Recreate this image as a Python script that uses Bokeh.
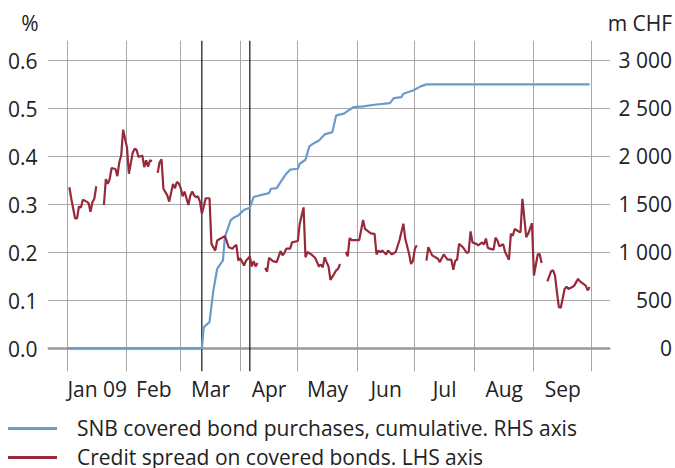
import numpy as np
import pandas as pd
from bokeh.plotting import figure
from bokeh.layouts import column
from bokeh.models import (Range1d, LinearAxis, FixedTicker, Span, Div,
                          NumeralTickFormatter)
from bokeh.embed import file_html
from bokeh.resources import INLINE

# ---------------- data ----------------
month_starts = ["2009-01-01", "2009-02-01", "2009-03-01", "2009-04-01", "2009-05-01",
                "2009-06-01", "2009-07-01", "2009-08-01", "2009-09-01", "2009-10-01"]
month_labels = ["Jan 09", "Feb", "Mar", "Apr", "May", "Jun", "Jul", "Aug", "Sep"]
left_ticks = [0.0, 0.1, 0.2, 0.3, 0.4, 0.5, 0.6]
right_ticks = [0, 500, 1000, 1500, 2000, 2500, 3000]
right_labels = ["\u2007\u00a0\u2007\u20070", "\u2007\u00a0500", "1 000", "1 500",
                "2 000", "2 500", "3 000"]
unit_labels = ["%\u2007\u2007\u2007",
               "\u2007\u2007\u2007\u2007\u2007m CHF"]
series_labels = ["SNB covered bond purchases, cumulative. RHS axis",
                 "Credit spread on covered bonds. LHS axis"]
event_dates = ["2009-03-12", "2009-04-06"]

spread_dates = [
    "2009-01-02", "2009-01-03", "2009-01-05", "2009-01-06", "2009-01-07", "2009-01-08",
    "2009-01-09", "2009-01-11", "2009-01-12", "2009-01-13", "2009-01-14", "2009-01-15",
    "2009-01-16", "2009-01-18", "2009-01-20", "2009-01-21", "2009-01-22", "2009-01-23",
    "2009-01-24", "2009-01-26", "2009-01-27", "2009-01-28", "2009-01-29", "2009-01-30",
    "2009-02-01", "2009-02-02", "2009-02-04", "2009-02-05", "2009-02-06", "2009-02-07",
    "2009-02-09", "2009-02-10", "2009-02-11", "2009-02-12", "2009-02-13", "2009-02-14",
    "2009-02-15", "2009-02-17", "2009-02-18", "2009-02-19", "2009-02-20", "2009-02-22",
    "2009-02-23", "2009-02-25", "2009-02-26", "2009-02-27", "2009-02-28", "2009-03-01",
    "2009-03-02", "2009-03-03", "2009-03-04", "2009-03-05", "2009-03-06", "2009-03-07",
    "2009-03-08", "2009-03-09", "2009-03-10", "2009-03-11", "2009-03-12", "2009-03-13",
    "2009-03-14", "2009-03-16", "2009-03-17", "2009-03-19", "2009-03-20", "2009-03-23",
    "2009-03-24", "2009-03-25", "2009-03-26", "2009-03-28", "2009-03-29", "2009-03-30",
    "2009-03-31", "2009-04-01", "2009-04-03", "2009-04-04", "2009-04-05", "2009-04-06",
    "2009-04-07", "2009-04-08", "2009-04-09", "2009-04-10", "2009-04-12", "2009-04-14",
    "2009-04-15", "2009-04-16", "2009-04-18", "2009-04-20", "2009-04-22", "2009-04-23",
    "2009-04-24", "2009-04-25", "2009-04-27", "2009-04-28", "2009-05-01", "2009-05-02",
    "2009-05-04", "2009-05-05", "2009-05-06", "2009-05-08", "2009-05-10", "2009-05-11",
    "2009-05-12", "2009-05-13", "2009-05-14", "2009-05-15", "2009-05-16", "2009-05-17",
    "2009-05-18", "2009-05-20", "2009-05-21", "2009-05-22", "2009-05-23", "2009-05-24",
    "2009-05-26", "2009-05-27", "2009-05-28", "2009-05-29", "2009-06-02", "2009-06-03",
    "2009-06-04", "2009-06-05", "2009-06-06", "2009-06-08", "2009-06-10", "2009-06-11",
    "2009-06-12", "2009-06-13", "2009-06-14", "2009-06-16", "2009-06-17", "2009-06-19",
    "2009-06-21", "2009-06-23", "2009-06-25", "2009-06-26", "2009-06-28", "2009-06-29",
    "2009-06-30", "2009-07-01", "2009-07-02", "2009-07-04", "2009-07-07", "2009-07-08",
    "2009-07-10", "2009-07-13", "2009-07-14", "2009-07-16", "2009-07-18", "2009-07-20",
    "2009-07-21", "2009-07-22", "2009-07-23", "2009-07-24", "2009-07-26", "2009-07-28",
    "2009-07-29", "2009-07-30", "2009-07-31", "2009-08-02", "2009-08-03", "2009-08-05",
    "2009-08-06", "2009-08-07", "2009-08-08", "2009-08-09", "2009-08-11", "2009-08-12",
    "2009-08-13", "2009-08-14", "2009-08-16", "2009-08-17", "2009-08-19", "2009-08-20",
    "2009-08-21", "2009-08-22", "2009-08-24", "2009-08-25", "2009-08-26", "2009-08-28",
    "2009-08-29", "2009-08-31", "2009-09-01", "2009-09-03", "2009-09-04", "2009-09-05",
    "2009-09-06", "2009-09-08", "2009-09-10", "2009-09-11", "2009-09-12", "2009-09-13",
    "2009-09-14", "2009-09-15", "2009-09-17", "2009-09-18", "2009-09-19", "2009-09-21",
    "2009-09-22", "2009-09-24", "2009-09-25", "2009-09-28", "2009-09-29", "2009-09-30",
]
spread_values = [
    0.336, 0.312, 0.271, 0.271, 0.296, 0.294,
    0.310, 0.306, 0.303, 0.285, 0.305, 0.312,
    0.338, None, 0.299, 0.353, 0.343, 0.353,
    0.376, 0.374, 0.359, 0.388, 0.402, 0.456,
    0.419, 0.364, 0.408, 0.416, 0.414, 0.399,
    0.402, 0.378, 0.392, 0.379, 0.392, 0.390,
    None, 0.366, 0.388, 0.394, 0.333, 0.319,
    0.306, 0.343, 0.334, 0.347, 0.344, 0.334,
    0.317, 0.327, 0.313, 0.299, 0.319, 0.327,
    0.319, 0.315, 0.317, 0.306, 0.281, 0.296,
    0.313, 0.313, 0.218, 0.204, 0.225, 0.232,
    0.234, 0.223, 0.211, 0.208, 0.213, 0.216,
    0.183, 0.188, 0.173, 0.183, 0.187, 0.192,
    0.171, 0.182, 0.171, 0.178, None, 0.168,
    0.160, 0.189, 0.182, 0.180, 0.203, 0.194,
    0.199, 0.208, 0.208, 0.221, 0.224, 0.260,
    0.294, 0.190, 0.201, 0.196, 0.189, 0.180,
    0.171, 0.175, 0.169, 0.190, 0.180, 0.171,
    0.143, 0.156, 0.163, 0.166, 0.176, None,
    0.201, 0.192, 0.230, 0.226, 0.226, 0.247,
    0.268, 0.249, 0.246, 0.240, 0.239, 0.196,
    0.204, 0.201, 0.204, 0.196, 0.204, 0.196,
    0.201, 0.226, 0.260, 0.228, 0.197, 0.176,
    0.183, 0.208, 0.215, None, 0.183, 0.211,
    0.194, 0.187, 0.180, 0.196, 0.185, 0.185,
    0.164, 0.183, 0.185, 0.218, 0.211, 0.199,
    0.201, 0.244, 0.221, 0.218, 0.215, 0.221,
    0.217, 0.229, 0.210, 0.208, 0.206, 0.231,
    0.225, 0.213, 0.217, 0.201, 0.185, 0.239,
    0.235, 0.249, 0.244, 0.242, 0.312, 0.232,
    0.239, 0.261, 0.152, 0.196, 0.197, 0.178,
    None, 0.140, 0.161, 0.163, 0.152, 0.117,
    0.086, 0.085, 0.124, 0.129, 0.124, 0.128,
    0.131, 0.145, 0.140, 0.131, 0.121, 0.128,
]

purchase_dates = [
    "2009-01-01", "2009-03-12", "2009-03-13", "2009-03-16", "2009-03-18", "2009-03-20",
    "2009-03-23", "2009-03-24", "2009-03-27", "2009-03-29", "2009-03-31", "2009-04-03",
    "2009-04-06", "2009-04-08", "2009-04-11", "2009-04-16", "2009-04-17", "2009-04-20",
    "2009-04-22", "2009-04-25", "2009-04-27", "2009-05-01", "2009-05-02", "2009-05-05",
    "2009-05-07", "2009-05-09", "2009-05-12", "2009-05-15", "2009-05-19", "2009-05-21",
    "2009-05-25", "2009-05-28", "2009-05-30", "2009-06-04", "2009-06-10", "2009-06-18",
    "2009-06-20", "2009-06-24", "2009-06-25", "2009-06-30", "2009-07-04", "2009-07-07",
    "2009-09-30",
]
purchase_values = [
    0, 0, 222, 274, 604, 830,
    917, 1160, 1334, 1368, 1386, 1445,
    1466, 1577, 1594, 1618, 1664, 1670,
    1733, 1820, 1862, 1872, 1924, 1966,
    2105, 2133, 2167, 2230, 2254, 2428,
    2446, 2487, 2514, 2522, 2539, 2556,
    2608, 2619, 2654, 2688, 2730, 2751,
    2751,
]

# ---------------- helpers ----------------
DAY = 86400000


def ms(s):
    return int(pd.Timestamp(s).value // 10**6)


starts_ms = [ms(s) for s in month_starts]
mids_ms = [(a + b) // 2 for a, b in zip(starts_ms[:-1], starts_ms[1:])]

TXT = "#222222"
FONT = "Open Sans"
FS = "21px"
BLUE = "#6b9bc8"
RED = "#972a3a"
GRID = "#a8a8a8"
LW = 2.2

p = figure(width=675, height=405, output_backend="svg", toolbar_location=None,
           x_axis_type="datetime",
           x_range=Range1d(starts_ms[0] - 10.4 * DAY, starts_ms[-1] + 9.9 * DAY),
           y_range=Range1d(-0.0479, 0.6417),
           min_border_left=47, min_border_right=65, min_border_top=40,
           min_border_bottom=34)
p.extra_y_ranges = {"right": Range1d(-240, 3208)}
p.extra_x_ranges = {"units": Range1d(-0.001, 1.001)}
p.outline_line_color = None
p.background_fill_color = "white"
p.border_fill_color = "white"

# grids
p.xgrid.ticker = FixedTicker(ticks=starts_ms)
p.ygrid.ticker = FixedTicker(ticks=left_ticks)
for g in (p.xgrid, p.ygrid):
    g.grid_line_color = GRID
    g.grid_line_width = 1

# x axis
xa = p.xaxis[0]
xa.ticker = FixedTicker(ticks=mids_ms)
xa.major_label_overrides = {m: lab for m, lab in zip(mids_ms, month_labels)}
xa.major_label_standoff = -3

# left axis
ya = p.yaxis[0]
ya.ticker = FixedTicker(ticks=left_ticks)
ya.formatter = NumeralTickFormatter(format="0.0")
ya.major_label_standoff = 4

# right axis
ra = LinearAxis(y_range_name="right", ticker=FixedTicker(ticks=right_ticks),
                major_label_overrides={t: l for t, l in zip(right_ticks, right_labels)})
ra.major_label_standoff = 2
p.add_layout(ra, "right")

# unit captions above the frame, at its two ends
ua = LinearAxis(x_range_name="units", ticker=FixedTicker(ticks=[0, 1]),
                major_label_overrides={0: unit_labels[0], 1: unit_labels[1]})
ua.major_label_standoff = -2
p.add_layout(ua, "above")

for ax in (xa, ya, ra, ua):
    ax.axis_line_color = None
    ax.major_tick_line_color = None
    ax.minor_tick_line_color = None
    ax.major_label_text_font = FONT
    ax.major_label_text_font_size = FS
    ax.major_label_text_color = TXT

# zero line and event lines
p.add_layout(Span(location=0, dimension="width", line_color="#9a9a9a",
                  line_width=2.5, level="underlay"))
for d in event_dates:
    p.add_layout(Span(location=ms(d), dimension="height", line_color="#111111",
                      line_width=1.2, level="underlay"))

# series
pd_x = pd.to_datetime(purchase_dates)
sp_x = pd.to_datetime(spread_dates)
sp_y = np.array([np.nan if v is None else v for v in spread_values], dtype=float)

p.line(pd_x, purchase_values, y_range_name="right", line_color=BLUE, line_width=LW)
p.line(sp_x, sp_y, line_color=RED, line_width=LW)

# ---------------- legend strip below the chart ----------------
key_colors = [BLUE, RED]
rows = []
for i, (lab, col) in enumerate(zip(series_labels, key_colors)):
    line_top = 22 + 29 * i
    text_top = 9 + 29 * i
    rows.append(
        f'<div style="position:absolute;left:8px;top:{line_top}px;width:49px;'
        f'height:2.5px;background:{col};"></div>'
        f'<div style="position:absolute;left:77px;top:{text_top}px;line-height:29px;'
        f'white-space:nowrap;">{lab}</div>'
    )
html = (f'<div style="position:relative;width:675px;height:63px;overflow:hidden;'
        f"font-family:'Open Sans';font-size:{FS};color:{TXT};\">" + "".join(rows) + "</div>")
key = Div(text=html, width=675, height=63, margin=0)

layout = column(p, key, spacing=0)
open("out.html", "w").write(file_html(layout, INLINE))
